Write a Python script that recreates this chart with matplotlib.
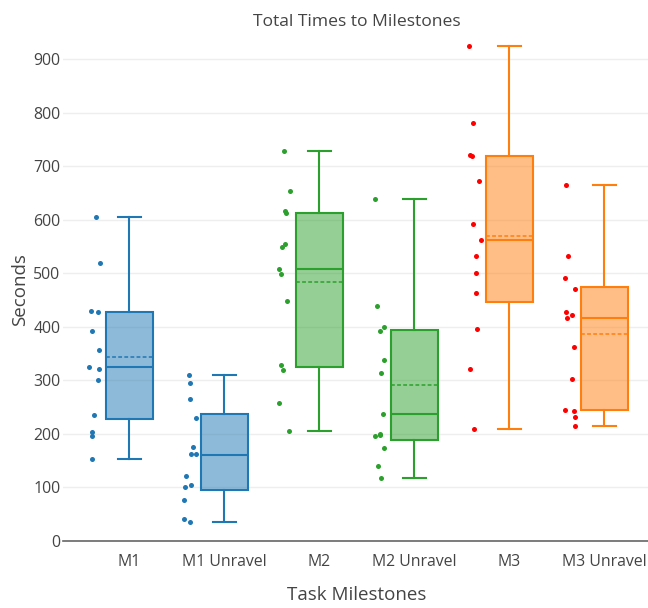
import matplotlib.pyplot as plt
import numpy as np
from matplotlib.colors import to_rgba

plt.rcParams['font.family'] = ['Open Sans', 'DejaVu Sans']

categories = ["M1", "M1 Unravel", "M2", "M2 Unravel", "M3", "M3 Unravel"]

# individual times (seconds)
m1 = [605, 520, 427, 429, 392, 357, 325, 322, 300, 236, 197, 204, 153]
m1_unravel = [310, 296, 265, 229, 176, 162, 163, 122, 101, 104, 76, 42, 36]
m2 = [729, 654, 613, 617, 555, 549, 509, 498, 449, 329, 319, 257, 205]
m2_unravel = [639, 440, 400, 392, 338, 314, 237, 196, 198, 199, 173, 140, 118]
m3 = [924, 781, 720, 721, 673, 593, 562, 533, 500, 463, 397, 321, 210]
m3_unravel = [665, 533, 492, 470, 428, 423, 417, 363, 303, 245, 242, 232, 214]

# box statistics as drawn (plotly quartiles)
q1 = [228, 95.5, 326, 189, 446, 244]
median = [325, 161, 509, 237, 563, 417]
q3 = [427, 238, 613, 394, 720, 475]
mean = [344, 160, 484, 291, 569, 387]
whislo = [153, 36, 205, 118, 210, 214]
whishi = [605, 311, 729, 639, 924, 665]

series = [m1, m1_unravel, m2, m2_unravel, m3, m3_unravel]
box_colors = ["#1f77b4", "#1f77b4", "#2ca02c", "#2ca02c", "#ff7f0e", "#ff7f0e"]
point_colors = ["#1f77b4", "#1f77b4", "#2ca02c", "#2ca02c", "#ff0000", "#ff0000"]

fig = plt.figure(figsize=(6.48, 6.08), dpi=100)
ax = fig.add_axes([63 / 648, 67 / 608, 1 - 63 / 648, (541 - 30) / 608])

stats = []
for i in range(len(categories)):
    stats.append({"q1": q1[i], "med": median[i], "q3": q3[i], "mean": mean[i],
                  "whislo": whislo[i], "whishi": whishi[i], "fliers": []})

positions = np.arange(len(categories))
for i in range(len(categories)):
    c = box_colors[i]
    ax.bxp([stats[i]], positions=[positions[i]], widths=0.495,
           patch_artist=True, showmeans=True, meanline=True,
           showfliers=False,
           boxprops=dict(facecolor=to_rgba(c, 0.5), edgecolor=c, linewidth=1.5),
           medianprops=dict(color=c, linewidth=1.5),
           meanprops=dict(color=c, linewidth=1.1, linestyle=(0, (2.5, 1.5))),
           whiskerprops=dict(color=c, linewidth=1.5),
           capprops=dict(color=c, linewidth=1.5),
           capwidths=0.24, zorder=3)

# points sit to the left of each box with a small jitter
rng = np.random.default_rng(7)
for i, vals in enumerate(series):
    jitter = rng.uniform(-0.065, 0.065, len(vals))
    ax.scatter(positions[i] - 0.365 + jitter, vals, s=13, color=point_colors[i],
               linewidths=0, zorder=4)

ax.set_xlim(-0.698, 5.46)
ax.set_ylim(0, (541 - 30) / 0.5352)
ax.set_yticks(np.arange(0, 901, 100))
ax.set_xticks(positions)
ax.set_xticklabels(categories)
ax.grid(axis='y', color='#eeeeee', linewidth=1)
ax.set_axisbelow(True)
for s in ['top', 'right', 'left']:
    ax.spines[s].set_visible(False)
ax.spines['bottom'].set_color('#666666')
ax.spines['bottom'].set_linewidth(1.2)
ax.tick_params(axis='both', length=0, labelsize=11.4, labelcolor='#444444')
ax.tick_params(axis='y', pad=2)
ax.tick_params(axis='x', pad=9)

ax.set_xlabel("Task Milestones", fontsize=13.5, color='#444444', va='center')
ax.xaxis.set_label_coords((357 - 63) / 585, -(595 - 541) / 511)
ax.set_ylabel("Seconds", fontsize=13.5, color='#444444', va='center')
ax.yaxis.set_label_coords((20 - 63) / 585, (541 - 290) / 511)

fig.text(357 / 648, 1 - 22 / 608, "Total Times to Milestones", fontsize=12.6,
         color='#444444', ha='center', va='center')

fig.savefig("out.png", dpi=100)
